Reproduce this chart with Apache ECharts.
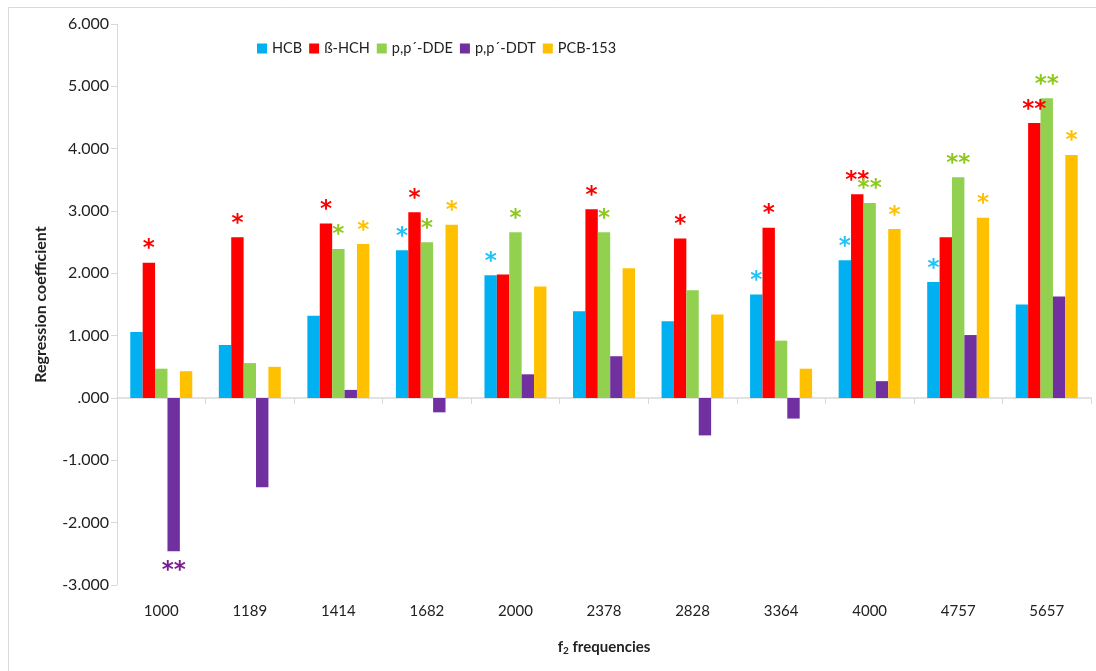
<!DOCTYPE html>
<html>
<head>
<meta charset="utf-8">
<script src="https://cdn.jsdelivr.net/npm/echarts@6/dist/echarts.min.js"></script>
<style>
  html, body { margin: 0; padding: 0; background: #fff; }
  #chart { width: 1096px; height: 671px; }
</style>
</head>
<body>
<div id="chart"></div>
<script>
// f2 frequencies (Hz)
const categories = ['1000', '1189', '1414', '1682', '2000', '2378', '2828', '3364', '4000', '4757', '5657'];

// Regression coefficients per compound
const hcb    = [1.06, 0.85, 1.32, 2.37, 1.97, 1.39, 1.23, 1.66, 2.21, 1.86, 1.50];
const bHch   = [2.17, 2.58, 2.80, 2.98, 1.98, 3.03, 2.56, 2.73, 3.27, 2.58, 4.41];
const ppDde  = [0.47, 0.56, 2.39, 2.50, 2.66, 2.66, 1.73, 0.92, 3.13, 3.54, 4.81];
const ppDdt  = [-2.46, -1.43, 0.13, -0.23, 0.38, 0.67, -0.60, -0.33, 0.27, 1.01, 1.63];
const pcb153 = [0.43, 0.50, 2.47, 2.78, 1.79, 2.08, 1.34, 0.47, 2.71, 2.89, 3.90];

// Significance marks per compound
const sigHcb    = ['', '', '', '*', '*', '', '', '*', '*', '*', ''];
const sigBHch   = ['*', '*', '*', '*', '', '*', '*', '*', '**', '', '**'];
const sigPpDde  = ['', '', '*', '*', '*', '*', '', '', '**', '**', '**'];
const sigPpDdt  = ['**', '', '', '', '', '', '', '', '', '', ''];
const sigPcb153 = ['', '', '*', '*', '', '', '', '', '*', '*', '*'];

const seriesDefs = [
  { name: 'HCB',        data: hcb,    sig: sigHcb,    color: '#00B0F0', mark: '#1EC3F7' },
  { name: 'ß-HCH',      data: bHch,   sig: sigBHch,   color: '#FF0000', mark: '#FF0000' },
  { name: 'p,p´-DDE',   data: ppDde,  sig: sigPpDde,  color: '#92D050', mark: '#8CC81E' },
  { name: 'p,p´-DDT',   data: ppDdt,  sig: sigPpDdt,  color: '#7030A0', mark: '#7A1F90' },
  { name: 'PCB-153',    data: pcb153, sig: sigPcb153, color: '#FFC000', mark: '#FFC000' }
];

const FONT = 'Lato';

const chart = echarts.init(document.getElementById('chart'), null, { renderer: 'canvas' });

const series = seriesDefs.map(def => ({
  name: def.name,
  type: 'bar',
  xAxisIndex: 0,
  barGap: '0%',
  barCategoryGap: '30%',
  itemStyle: { color: def.color },
  emphasis: { disabled: true },
  data: def.data.map((v, i) => ({
    value: v,
    label: {
      show: def.sig[i] !== '',
      position: v < 0 ? 'bottom' : 'top',
      distance: v < 0 ? 8 : 2,
      formatter: def.sig[i],
      color: def.mark,
      fontSize: 23,
      fontWeight: 'bold',
      fontFamily: 'DejaVu Sans'
    }
  }))
}));

chart.setOption({
  animation: false,
  backgroundColor: '#fff',
  graphic: [{
    type: 'rect',
    shape: { x: 8.5, y: 7.5, width: 1100, height: 680 },
    style: { fill: 'none', stroke: '#d9d9d9', lineWidth: 1 },
    silent: true,
    z: -1
  }],
  legend: {
    left: 252,
    top: 36,
    itemWidth: 10,
    itemHeight: 10,
    itemGap: 7,
    icon: 'rect',
    textStyle: { fontFamily: FONT, fontSize: 14.5, color: '#222', padding: [0, 0, 0, 0] },
    data: seriesDefs.map(d => d.name)
  },
  grid: { left: 117, right: 5, top: 24, bottom: 86, containLabel: false },
  xAxis: [
    {
      type: 'category',
      data: categories,
      position: 'bottom',
      axisLine: { show: false, onZero: false },
      axisTick: { show: false },
      axisLabel: { fontFamily: FONT, fontSize: 15, color: '#222', margin: 19 },
      name: 'f{sub|2} frequencies',
      nameLocation: 'middle',
      nameGap: 54,
      nameTextStyle: {
        fontFamily: FONT, fontSize: 15, fontWeight: 'bold', color: '#222',
        rich: { sub: { fontFamily: FONT, fontSize: 10, fontWeight: 'bold', color: '#222', verticalAlign: 'bottom', padding: [7, 0, 0, 0] } }
      }
    },
    {
      type: 'category',
      data: categories,
      position: 'bottom',
      axisLine: { show: true, onZero: true, lineStyle: { color: '#d9d9d9', width: 1.5 } },
      axisTick: { show: true, alignWithLabel: false, length: 6, lineStyle: { color: '#d9d9d9' } },
      axisLabel: { show: false }
    }
  ],
  yAxis: {
    type: 'value',
    min: -3,
    max: 6,
    interval: 1,
    axisLine: { show: true, lineStyle: { color: '#d9d9d9' } },
    axisTick: { show: true, length: 6, lineStyle: { color: '#d9d9d9' } },
    splitLine: { show: false },
    axisLabel: {
      fontFamily: FONT, fontSize: 16, color: '#222', margin: 8,
      formatter: v => {
        const s = Math.abs(v).toFixed(3);
        const body = Math.abs(v) < 1e-9 ? '.000' : s;
        return (v < 0 ? '-' : '') + body;
      }
    },
    name: 'Regression coefficient',
    nameLocation: 'middle',
    nameGap: 68,
    nameRotate: 90,
    nameTextStyle: { fontFamily: FONT, fontSize: 16, fontWeight: 'bold', color: '#222' }
  },
  series: series
});
</script>
</body>
</html>
